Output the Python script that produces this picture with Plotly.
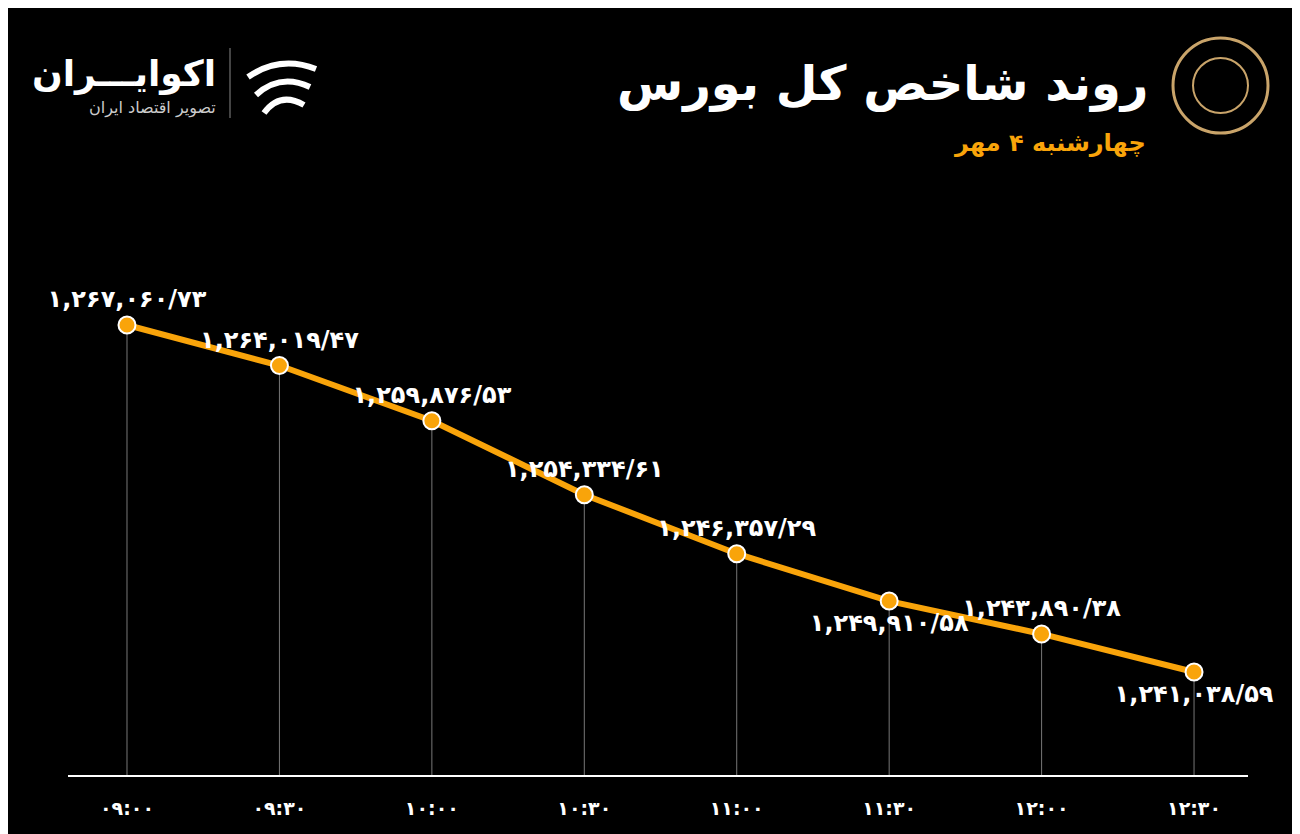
import plotly.graph_objects as go

times = ["۰۹:۰۰", "۰۹:۳۰", "۱۰:۰۰", "۱۰:۳۰", "۱۱:۰۰", "۱۱:۳۰", "۱۲:۰۰", "۱۲:۳۰"]
values = [1267060.73, 1264019.47, 1259876.53, 1254334.61, 1249910.58, 1246357.29, 1243890.38, 1241038.59]
labels = ["۱,۲۶۷,۰۶۰/۷۳", "۱,۲۶۴,۰۱۹/۴۷", "۱,۲۵۹,۸۷۶/۵۳", "۱,۲۵۴,۳۳۴/۶۱",
          "۱,۲۴۶,۳۵۷/۲۹", "۱,۲۴۹,۹۱۰/۵۸", "۱,۲۴۳,۸۹۰/۳۸", "۱,۲۴۱,۰۳۸/۵۹"]
label_pos = ["top center"] * 5 + ["bottom center", "top center", "bottom center"]

L, R, T, B = 60, 1240, 200, 767
def px(v): return (v - L) / (R - L)
def py(v): return (B - v) / (B - T)

x = list(range(len(times)))
base = 1233313
dx, dy = [], []
for i, v in zip(x, values):
    dx += [i, i, None]
    dy += [v - 250, base, None]

fig = go.Figure()
fig.add_trace(go.Scatter(x=dx, y=dy, mode="lines", line=dict(color="#777", width=1), hoverinfo="skip"))
fig.add_trace(go.Scatter(x=x, y=values, mode="lines+markers+text", text=["<b>%s</b>" % t for t in labels],
                         textposition=label_pos,
                         textfont=dict(family="DejaVu Sans", size=24, color="white"),
                         line=dict(color="#f9a40a", width=6),
                         marker=dict(size=17, color="#f9a40a", line=dict(color="white", width=2))))
fig.update_traces(cliponaxis=False)
fig.update_layout(
    width=1300, height=834, paper_bgcolor="black", plot_bgcolor="black", showlegend=False,
    margin=dict(l=L, r=1300 - R, t=T, b=834 - B),
    xaxis=dict(range=[-0.387, 7.354], tickvals=x, ticktext=["<b>%s</b>" % t for t in times],
               showgrid=False, zeroline=False,
               showline=True, linecolor="white", linewidth=2, ticks="", ticklabelstandoff=15,
               tickfont=dict(family="DejaVu Sans", size=19, color="white")),
    yaxis=dict(range=[base, 1275835], visible=False),
    font=dict(family="DejaVu Sans"),
)
def ann(text, x0, y0, size, color, anchor="right"):
    fig.add_annotation(text=text, xref="paper", yref="paper", x=px(x0), y=py(y0),
                       xanchor=anchor, yanchor="middle", showarrow=False, font=dict(size=size, color=color))
ann("<b>روند شاخص کل بورس</b>", 1142, 75, 48, "white")
ann("<b>چهارشنبه ۴ مهر</b>", 1140, 135, 24, "#f9a40a")
ann("<b>اکوایـــران</b>", 210, 66, 36, "white")
ann("تصویر اقتصاد ایران", 210, 100, 16, "#ccc")
fig.add_shape(type="line", xref="paper", yref="paper", x0=px(222), x1=px(222), y0=py(40), y1=py(110),
              line=dict(color="#888", width=1))
fig.add_shape(type="circle", xref="paper", yref="paper", x0=px(1165), x1=px(1260), y0=py(30), y1=py(125),
              line=dict(color="#c9a46a", width=3))
fig.add_shape(type="circle", xref="paper", yref="paper", x0=px(1185), x1=px(1240), y0=py(50), y1=py(105),
              line=dict(color="#c9a46a", width=2))
for k in range(3):
    y0 = 55 + k * 18
    fig.add_shape(type="path", xref="paper", yref="paper",
                  path=f"M {px(240+k*8)},{py(y0+14)} Q {px(272)},{py(y0-8)} {px(308-k*6)},{py(y0+6)}",
                  line=dict(color="white", width=6))
fig.write_html("out.html")
